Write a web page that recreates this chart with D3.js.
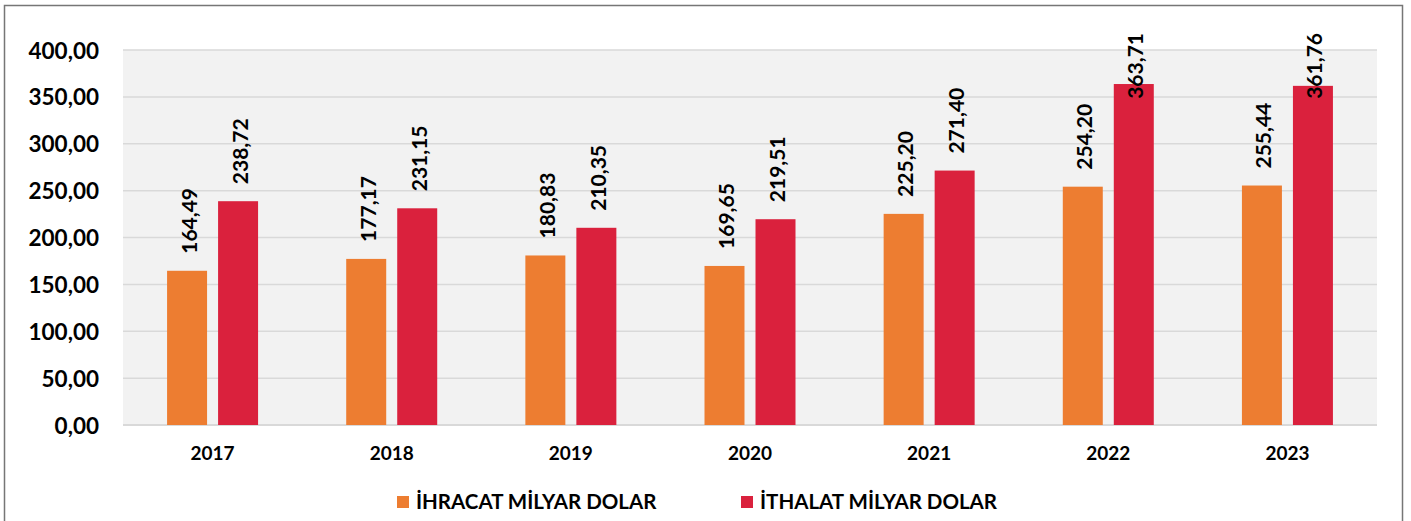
<!DOCTYPE html>
<html>
<head>
<meta charset="utf-8">
<script src="https://cdn.jsdelivr.net/npm/d3@7"></script>
<style>
  body { margin: 0; background: #fff; }
  text { font-family: Lato, "Open Sans", sans-serif; font-weight: bold; fill: #000; }
</style>
</head>
<body>
<script>
// chart data
var years = ["2017", "2018", "2019", "2020", "2021", "2022", "2023"];
var ihracat = [164.49, 177.17, 180.83, 169.65, 225.20, 254.20, 255.44];
var ithalat = [238.72, 231.15, 210.35, 219.51, 271.40, 363.71, 361.76];
var seriesNames = ["İHRACAT MİLYAR DOLAR", "İTHALAT MİLYAR DOLAR"];
var seriesColors = ["#ED7D31", "#DA213D"];
var yTicks = [0, 50, 100, 150, 200, 250, 300, 350, 400];

var w = 1411, h = 521;
var plot = { left: 123, right: 1377, top: 50, bottom: 425 };

var svg = d3.select("body").append("svg").attr("width", w).attr("height", h);

// outer frame
svg.append("rect")
  .attr("x", 4.5).attr("y", 5.5)
  .attr("width", 1398).attr("height", 530)
  .attr("fill", "none")
  .attr("stroke", "#767676")
  .attr("stroke-width", 1.5);

var y = d3.scaleLinear().domain([0, 400]).range([plot.bottom, plot.top]);

var x0 = d3.scaleBand()
  .domain(years)
  .range([plot.left, plot.right]);

var x1 = d3.scaleBand()
  .domain([0, 1])
  .range([0, 91])
  .paddingInner(0.216);

var groupOffset = (x0.bandwidth() - 91) / 2;

// plot background
svg.append("rect")
  .attr("x", plot.left).attr("y", plot.top)
  .attr("width", plot.right - plot.left)
  .attr("height", plot.bottom - plot.top)
  .attr("fill", "#f2f2f2");

// gridlines
svg.append("g").selectAll("line")
  .data(yTicks)
  .enter().append("line")
  .attr("x1", plot.left).attr("x2", plot.right)
  .attr("y1", function(d) { return y(d); })
  .attr("y2", function(d) { return y(d); })
  .attr("stroke", "#d9d9d9")
  .attr("stroke-width", function(d) { return d == 0 ? 2 : 1.5; });

// y axis labels
var fmt = function(v) { return d3.format(".2f")(v).replace(".", ","); };

var yAxis = d3.axisLeft(y)
  .tickValues(yTicks)
  .tickSize(0)
  .tickPadding(0)
  .tickFormat(fmt);

svg.append("g")
  .attr("transform", "translate(99,0)")
  .call(yAxis)
  .call(function(g) { g.select(".domain").remove(); })
  .selectAll("text")
  .attr("font-family", null)
  .style("font-size", "22.5px")
  .attr("dy", "0.36em");

// x axis labels
var xAxis = d3.axisBottom(x0).tickSize(0).tickPadding(0);
svg.append("g")
  .attr("transform", "translate(0,460)")
  .call(xAxis)
  .call(function(g) { g.select(".domain").remove(); })
  .selectAll("text")
  .attr("font-family", null)
  .attr("dy", 0)
  .attr("y", 0)
  .style("font-size", "19px");

// bars
var rows = years.map(function(yr, i) {
  return { year: yr, values: [ihracat[i], ithalat[i]] };
});

var groups = svg.append("g").selectAll("g")
  .data(rows)
  .enter().append("g")
  .attr("transform", function(d) { return "translate(" + (x0(d.year) + groupOffset) + ",0)"; });

groups.selectAll("rect")
  .data(function(d) { return d.values.map(function(v, k) { return { k: k, v: v }; }); })
  .enter().append("rect")
  .attr("x", function(d) { return x1(d.k); })
  .attr("y", function(d) { return y(d.v); })
  .attr("width", x1.bandwidth())
  .attr("height", function(d) { return y(0) - y(d.v); })
  .attr("fill", function(d) { return seriesColors[d.k]; });

// value labels, rotated, pushed down when they'd run off the top
groups.selectAll("text")
  .data(function(d) { return d.values.map(function(v, k) { return { k: k, v: v }; }); })
  .enter().append("text")
  .text(function(d) { return fmt(d.v); })
  .style("font-size", "21px")
  .attr("dominant-baseline", "central")
  .attr("transform", function(d) {
    var len = this.getComputedTextLength();
    var start = Math.max(y(d.v) - 17, 33 + len);
    var cx = x1(d.k) + x1.bandwidth() / 2 + 1;
    return "translate(" + cx + "," + start + ") rotate(-90)";
  });

// legend
var legend = svg.append("g").selectAll("g")
  .data(seriesNames)
  .enter().append("g")
  .attr("transform", function(d, i) { return "translate(" + (397 + i * 344) + ",496)"; });

legend.append("rect")
  .attr("width", 12).attr("height", 12)
  .attr("fill", function(d, i) { return seriesColors[i]; });

legend.append("text")
  .attr("x", 19).attr("y", 13)
  .style("font-size", "20.5px")
  .text(function(d) { return d; });
</script>
</body>
</html>
